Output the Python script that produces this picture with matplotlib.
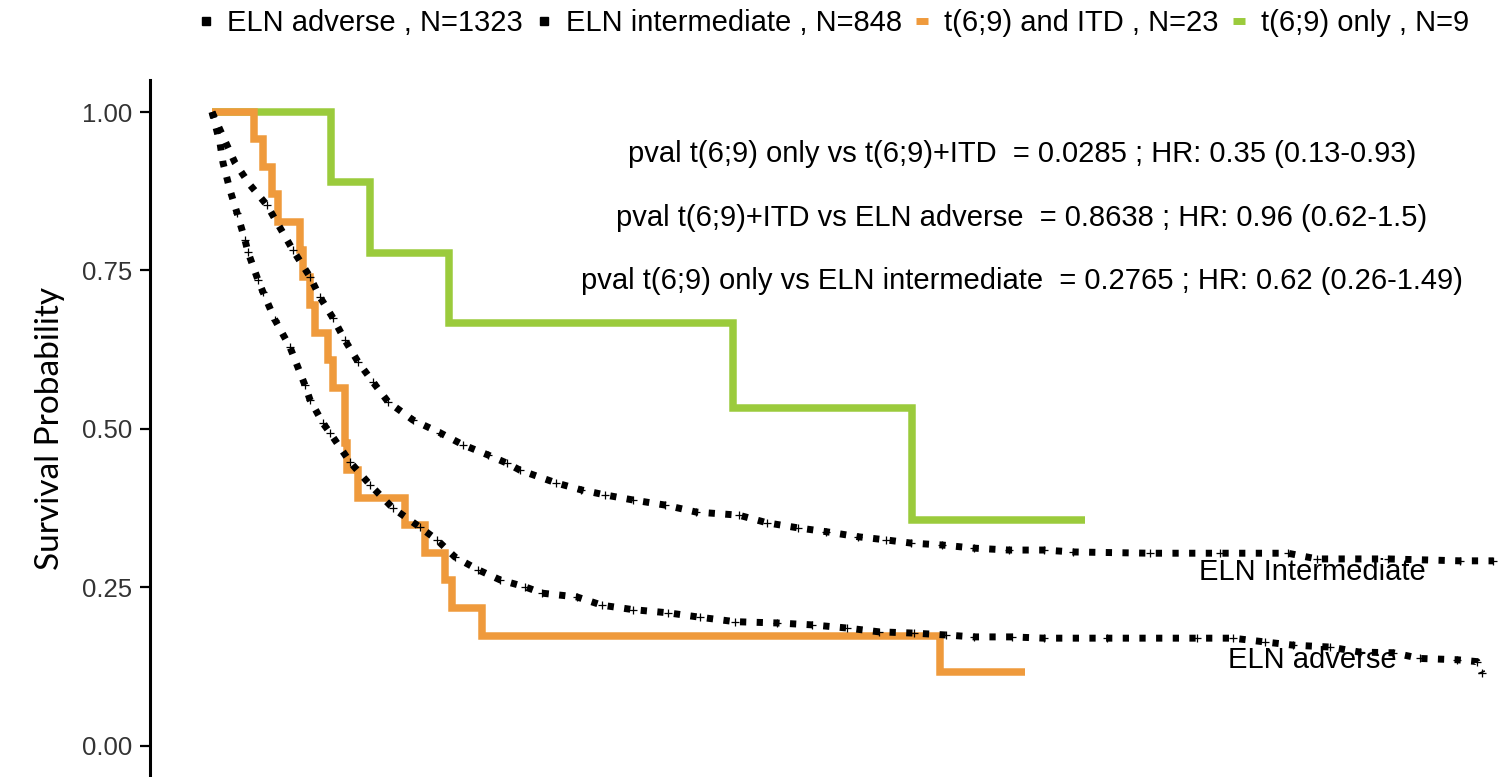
import numpy as np
import matplotlib
matplotlib.use("Agg")
import matplotlib.pyplot as plt
from matplotlib.lines import Line2D

# time axis in months (not shown in the reference, only relative positions matter)
adverse_t = [0, 0.8, 1.1, 1.8, 2.5, 3.3, 3.6, 4.6, 5.1, 6.3, 7.8, 9.3, 9.8, 11.1, 11.8, 13.8, 15.8, 18.1,
             20.8, 22.5, 24.3, 26.6, 28.8, 31.3, 33.0, 36.5, 39.0, 42.1, 45.6, 48.8, 52.3, 56.5, 60.0, 63.5,
             66.7, 70.2, 73.4, 76.2, 80.0, 83.2, 89.5, 98.5, 102.1, 105.3, 108.1, 111.8, 114.8, 118.1,
             120.8, 124.5, 126.5, 127.0]
adverse_s = [1.0, 0.951, 0.920, 0.877, 0.841, 0.798, 0.779, 0.735, 0.716, 0.672, 0.629, 0.569, 0.546,
             0.509, 0.494, 0.448, 0.412, 0.375, 0.345, 0.325, 0.298, 0.278, 0.262, 0.251, 0.241, 0.235,
             0.222, 0.215, 0.210, 0.203, 0.196, 0.194, 0.191, 0.186, 0.180, 0.178, 0.175, 0.172, 0.172,
             0.170, 0.170, 0.170, 0.170, 0.164, 0.159, 0.156, 0.148, 0.147, 0.138, 0.136, 0.133, 0.115]

inter_t = [0, 1.4, 2.3, 3.8, 5.5, 8.1, 9.8, 10.8, 12.1, 13.3, 14.6, 16.1, 17.6, 20.1, 22.8, 25.1, 27.6,
           29.5, 30.8, 34.4, 36.9, 39.3, 42.1, 45.3, 48.4, 52.7, 55.5, 58.6, 61.4, 64.6, 67.4, 69.9, 73.0,
           76.2, 79.7, 83.2, 86.1, 93.8, 100.8, 107.6, 110.5, 117.6, 124.8, 128.1]
inter_s = [1.0, 0.951, 0.920, 0.885, 0.853, 0.782, 0.740, 0.708, 0.675, 0.640, 0.606, 0.574, 0.543,
           0.514, 0.494, 0.475, 0.459, 0.446, 0.435, 0.415, 0.404, 0.396, 0.388, 0.380, 0.369, 0.364,
           0.352, 0.344, 0.338, 0.330, 0.325, 0.320, 0.317, 0.312, 0.309, 0.309, 0.306, 0.304, 0.304,
           0.304, 0.295, 0.295, 0.292, 0.292]

itd_t = [0, 4.2, 5.1, 6.0, 6.6, 8.8, 9.1, 9.8, 10.3, 11.6, 12.1, 13.3, 13.3, 13.5, 14.6, 19.3, 21.3,
         23.3, 24.0, 27.0, 72.8, 81.3]
itd_s = [1.0, 0.957, 0.913, 0.870, 0.826, 0.783, 0.739, 0.696, 0.652, 0.609, 0.565, 0.522, 0.478,
         0.435, 0.391, 0.348, 0.304, 0.261, 0.217, 0.174, 0.116, 0.116]

only_t = [0, 11.9, 15.8, 23.7, 52.1, 70.0, 87.3]
only_s = [1.0, 0.889, 0.778, 0.667, 0.533, 0.356, 0.356]

legend_labels = ["ELN adverse , N=1323", "ELN intermediate , N=848",
                 "t(6;9) and ITD , N=23", "t(6;9) only , N=9"]
pval_lines = ["pval t(6;9) only vs t(6;9)+ITD  = 0.0285 ; HR: 0.35 (0.13-0.93)",
              "pval t(6;9)+ITD vs ELN adverse  = 0.8638 ; HR: 0.96 (0.62-1.5)",
              "pval t(6;9) only vs ELN intermediate  = 0.2765 ; HR: 0.62 (0.26-1.49)"]
yticks = [0.0, 0.25, 0.5, 0.75, 1.0]

orange = "#EF9A3C"
green = "#9BCB3C"
font = "Liberation Sans"

fig = plt.figure(figsize=(14.98, 7.77), dpi=100)
ax = fig.add_axes([150 / 1498, 0.0, 1 - 150 / 1498, 1 - 80 / 777])

# t(6;9) curves, thick steps
ax.step(only_t, only_s, where="post", color=green, lw=5.4, solid_joinstyle="miter", solid_capstyle="butt")
ax.step(itd_t, itd_s, where="post", color=orange, lw=5.4, solid_joinstyle="miter", solid_capstyle="butt")

# ELN reference curves, dashed black with censor marks
for t, s in [(adverse_t, adverse_s), (inter_t, inter_s)]:
    ax.plot(t, s, color="black", lw=5.0, dashes=(0.9, 1.5), solid_capstyle="butt")
    ax.plot(t[4:], s[4:], ls="none", marker="+", color="black", ms=6, mew=0.9)

ax.text(110, 0.274, "ELN Intermediate", ha="center", va="center", fontsize=21, family=font)
ax.text(110, 0.136, "ELN adverse", ha="center", va="center", fontsize=21, family=font)

for i, line in enumerate(pval_lines):
    ax.text(81, 0.933 - i * 0.1, line, ha="center", va="center", fontsize=21, family=font)

ax.set_xlim(-6.2, 128.6)
ax.set_ylim(-0.049, 1.0505)
ax.set_yticks(yticks)
ax.set_yticklabels(["%.2f" % v for v in yticks], fontsize=18.5, family=font, color="#333333")
ax.set_xticks([])
for side in ["top", "right", "bottom"]:
    ax.spines[side].set_visible(False)
ax.spines["left"].set_linewidth(2.2)
ax.tick_params(axis="y", length=7, width=1.6, pad=6)
ax.set_ylabel("Survival Probability", fontsize=24, family="Lato", labelpad=12)

handles = [Line2D([], [], ls="none", marker="s", color="black", ms=6),
           Line2D([], [], ls="none", marker="s", color="black", ms=6),
           Line2D([], [], ls="none", marker="_", color=orange, ms=9, mew=5),
           Line2D([], [], ls="none", marker="_", color=green, ms=9, mew=5)]
fig.legend(handles, legend_labels, loc="upper center", bbox_to_anchor=(0.555, 1.022), ncol=4,
           frameon=False, prop={"family": font, "size": 21}, handlelength=0.8, handletextpad=0.35,
           columnspacing=0.3)

fig.savefig("out.png", dpi=100)
